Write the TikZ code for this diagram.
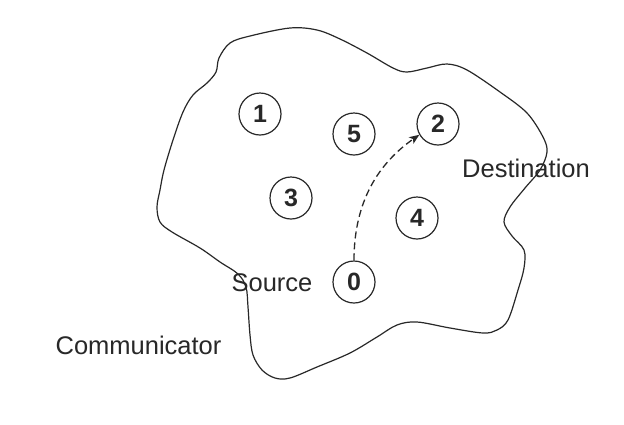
\documentclass[tikz,border=0pt]{standalone}
\usepackage{fontspec}
\setmainfont{Liberation Sans}
\usetikzlibrary{arrows.meta}
\definecolor{ink}{RGB}{40,40,40}
\tikzset{
  peer/.style={circle,draw=ink,line width=1.2pt,minimum size=42pt,inner sep=0pt,
    text=ink,font=\fontsize{25}{30}\selectfont\bfseries},
  lbl/.style={text=ink,inner sep=0pt,font=\fontsize{25.5}{30}\selectfont},
  route/.style={draw=ink,line width=1.3pt,dash pattern=on 7pt off 4pt,
    -{Stealth[length=10pt,width=8pt,inset=2.5pt]}},
  outline/.style={draw=ink,line width=1.2pt}
}
\begin{document}
\begin{tikzpicture}[x=1pt,y=-1pt]
\useasboundingbox (0,0) rectangle (624,424);
\fill[white] (0,0) rectangle (624,424);
% region outline
\draw[outline] plot[smooth cycle,tension=0.55] coordinates {
(230,43) (250,36) (290,28) (317,30) (340,39) (367,53) (393,68) (407,72)
(427,68) (447,64) (467,70) (500,92) (527,113) (543,137) (547,152) (540,170)
(525,188) (510,207) (504,222) (512,236) (524,250) (524,268) (518,290)
(508,320) (497,330) (483,333) (450,328) (417,322) (397,325) (377,337)
(350,353) (317,367) (290,378) (275,378) (262,370) (253,355) (250,335)
(248,307) (246,287) (238,274) (220,262) (200,248) (172,232) (160,222)
(157,207) (160,190) (164,170) (173,140) (183,112) (193,95) (207,83)
(216,72) (219,58)};
% nodes
\node[peer] (n1) at (260,114) {1};
\node[peer] (n5) at (354,134) {5};
\node[peer] (n2) at (438,124) {2};
\node[peer] (n3) at (291,198) {3};
\node[peer] (n4) at (417,218) {4};
\node[peer] (n0) at (354,282) {0};
% labels
\node[lbl] (src) at (272,283) {Source};
\node[lbl] (dst) at (526,168) {Destination};
\node[lbl] (com) at (138.5,345) {Communicator};
% route
\draw[route] (n0.north) .. controls +(0,-60) and +(-40,28) .. (n2.210);
\end{tikzpicture}
\end{document}
